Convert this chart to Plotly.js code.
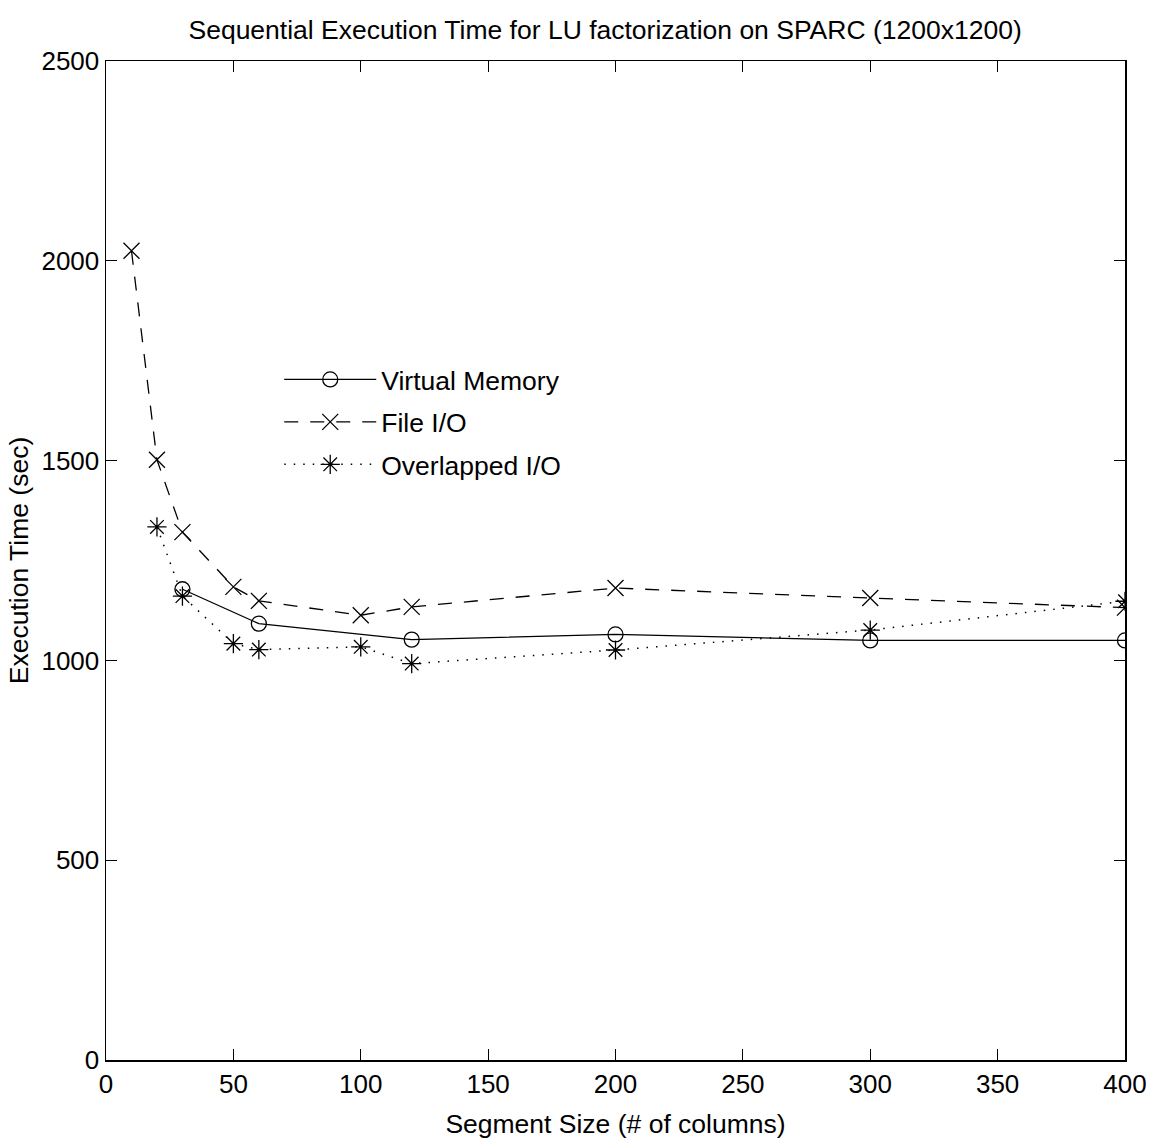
<!DOCTYPE html>
<html>
<head>
<meta charset="utf-8">
<script src="https://cdn.plot.ly/plotly-3.0.1.min.js"></script>
<style>html,body{margin:0;padding:0;background:#fff;}#chart{width:1157px;height:1148px;}</style>
</head>
<body>
<div id="chart"></div>
<script>
// Data
const vmX = [30, 60, 120, 200, 300, 400];
const vmY = [1178, 1092, 1052, 1065, 1050, 1050];

const fileX = [10, 20, 30, 50, 60, 100, 120, 200, 300, 400];
const fileY = [2025, 1502, 1321, 1184, 1149, 1113, 1134, 1181, 1156, 1132];

const ovlX = [20, 30, 50, 60, 100, 120, 200, 300, 400];
const ovlY = [1334, 1161, 1042, 1027, 1034, 992, 1026, 1076, 1148];

const xTicks = [0, 50, 100, 150, 200, 250, 300, 350, 400];
const yTicks = [0, 500, 1000, 1500, 2000, 2500];

const FONT = '"Liberation Sans", Arial, Helvetica, sans-serif';

const traces = [
  {x: vmX, y: vmY, name: 'Virtual Memory', mode: 'lines+markers', legendgroup: 'a',
   line: {color: '#000', width: 1.3, dash: 'solid'},
   marker: {symbol: 'circle-open', size: 15, color: '#000', line: {width: 1.3, color: '#000'}}},
  {x: fileX, y: fileY, name: 'File I/O', mode: 'lines+markers', legendgroup: 'b',
   line: {color: '#000', width: 1.3, dash: '14px,12px'},
   marker: {symbol: 'x-thin-open', size: 16, color: '#000', line: {width: 1.3, color: '#000'}}},
  {x: ovlX, y: ovlY, name: 'Overlapped I/O', mode: 'lines+markers', legendgroup: 'c',
   line: {color: '#000', width: 1.5, dash: '1.5px,8px'},
   marker: {symbol: 'asterisk-open', size: 16, color: '#000', line: {width: 1.3, color: '#000'}}}
];

const axisCommon = {
  showgrid: false, zeroline: false, showline: true, linecolor: '#000', linewidth: 1.5,
  mirror: 'ticks', ticks: 'inside', ticklen: 11, tickcolor: '#000', tickwidth: 1,
  tickfont: {family: FONT, size: 26, color: '#000'}
};

const layout = {
  width: 1157, height: 1148,
  paper_bgcolor: '#fff', plot_bgcolor: '#fff',
  margin: {l: 106, r: 32, t: 61, b: 88},
  font: {family: FONT, color: '#000'},
  title: {text: 'Sequential Execution Time for LU factorization on SPARC (1200x1200)',
          font: {family: FONT, size: 26.5, color: '#000'}, x: 0.523, xanchor: 'center', y: 0.974, yanchor: 'middle'},
  xaxis: Object.assign({}, axisCommon, {
    range: [0, 400], tickvals: xTicks, ticktext: xTicks.map(String),
    title: {text: 'Segment Size (# of columns)', font: {family: FONT, size: 26.5, color: '#000'}, standoff: 16}
  }),
  yaxis: Object.assign({}, axisCommon, {
    range: [0, 2500], tickvals: yTicks, ticktext: yTicks.map(String),
    title: {text: 'Execution Time (sec)', font: {family: FONT, size: 26.5, color: '#000'}, standoff: 5}
  }),
  legend: {x: 0.17, y: 0.705, xanchor: 'left', yanchor: 'top', bgcolor: 'rgba(0,0,0,0)',
           font: {family: FONT, size: 26.5, color: '#000'}, itemwidth: 92,
           traceorder: 'grouped', tracegroupgap: 5},
  showlegend: true
};

Plotly.newPlot('chart', traces, layout, {displayModeBar: false, staticPlot: true});
</script>
</body>
</html>
